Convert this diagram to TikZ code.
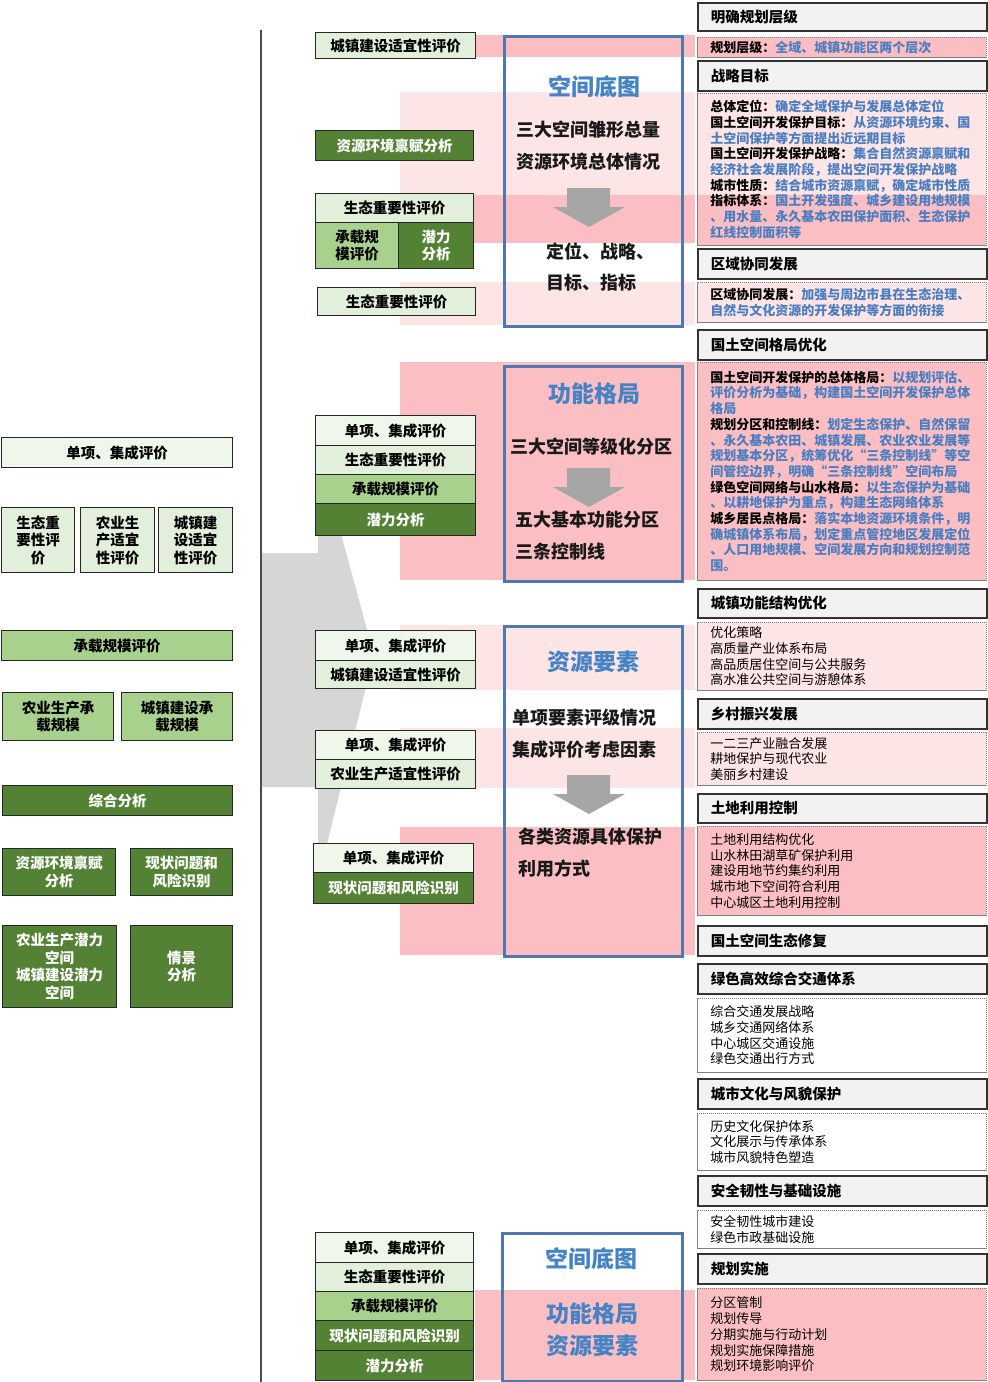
\documentclass[tikz,border=0pt]{standalone}
\usepackage{fontspec}
\setmainfont{Noto Sans CJK SC}
\newcommand\fsz[2]{\fontsize{#1}{#2}\selectfont}
\newcommand\blu[1]{\textcolor{txtblue}{#1}}
\definecolor{gA}{HTML}{EFF6EA}
\definecolor{gB}{HTML}{E2EFDA}
\definecolor{gC}{HTML}{A9D18E}
\definecolor{gD}{HTML}{548235}
\definecolor{pkL}{HTML}{FDE5E6}
\definecolor{pkD}{HTML}{FBBFC3}
\definecolor{frameblue}{HTML}{4E79AE}
\definecolor{titleblue}{HTML}{4383C6}
\definecolor{txtblue}{HTML}{4A7EC1}
\definecolor{ttlgrey}{HTML}{F2F2F2}
\definecolor{arrowgrey}{HTML}{A6A6A6}
\definecolor{biggrey}{HTML}{D6D6D6}
\tikzset{
  gbox/.style={draw=black!85, line width=1.1pt, inner sep=0pt, align=center, font=\fsz{14.5}{17.5}\bfseries},
  bluebox/.style={draw=frameblue, line width=3pt, inner sep=0pt},
  ttlbox/.style={anchor=north west, draw=black!80, line width=1.6pt, fill=ttlgrey, text width=263pt, inner xsep=13pt, inner ysep=0pt, align=left, font=\fsz{14.5}{17}\bfseries},
  cbox/.style={anchor=north west, draw=black!50, dash pattern=on 1.2pt off 0.8pt, line width=0.8pt, text width=263pt, inner xsep=13pt, inner ysep=0pt, align=left, font=\fsz{13}{15.7}},
  bigtitle/.style={font=\fsz{23}{27}\bfseries, text=titleblue, inner sep=0pt},
  btext/.style={font=\fsz{18}{22}\bfseries, text=black!90, inner sep=0pt, anchor=west},
}
\newcommand\bx[7]{\node[#6,anchor=north west,minimum width={(#4)-(#2)},minimum height={(#5)-(#3)}] (#1) at (#2,#3) {#7};}
\newcommand\tb[4]{\node[ttlbox, minimum height={(#3)-(#2)}] (#1) at (697,#2) {#4};}
\newcommand\cb[5]{\node[cbox, minimum height={(#3)-(#2)}, #4] (#1) at (697,#2) {#5};}
\newcommand\darrow[2]{\fill[arrowgrey] (567,#2) -- (610,#2) -- (610,#2+19) -- (625,#2+19) -- (589,#2+39) -- (553,#2+19) -- (567,#2+19) -- cycle;}
\begin{document}
\begin{tikzpicture}[x=1pt,y=-1pt]
\useasboundingbox (0,0) rectangle (988,1382);
% pink bands
\fill[pkD] (475,35) rectangle (695,57);
\fill[pkL] (400,92) rectangle (695,195);
\fill[pkD] (400,195) rectangle (695,243);
\fill[pkL] (400,282) rectangle (695,325);
\fill[pkD] (400,362) rectangle (695,580);
\fill[pkL] (400,625) rectangle (695,690);
\fill[pkL] (400,728) rectangle (695,788);
\fill[pkD] (400,827) rectangle (695,955);
\fill[pkD] (475,1290) rectangle (695,1380);
% big grey arrow
\fill[biggrey] (261,553) -- (318,553) -- (318,450) -- (374,655) -- (318,880) -- (318,787) -- (261,787) -- cycle;
% vertical divider
\coordinate (vtop) at (261,30);
\coordinate (vbot) at (261,1382);
\draw[line width=1.3pt, black!70] (vtop) -- (vbot);
% left column
\bx{l1}{1}{437}{232}{467}{gbox,fill=gA}{单项、集成评价}
\bx{l2}{1}{507}{74}{572}{gbox,fill=gB}{生态重\\要性评\\价}
\bx{l3}{80}{507}{154}{572}{gbox,fill=gB}{农业生\\产适宜\\性评价}
\bx{l4}{158}{507}{232}{572}{gbox,fill=gB}{城镇建\\设适宜\\性评价}
\bx{l5}{1}{630}{232}{660}{gbox,fill=gC}{承载规模评价}
\bx{l6}{2}{692}{113}{740}{gbox,fill=gC}{农业生产承\\载规模}
\bx{l7}{121}{692}{232}{740}{gbox,fill=gC}{城镇建设承\\载规模}
\bx{l8}{2}{785}{232}{815}{gbox,fill=gD,text=white}{综合分析}
\bx{l9}{2}{848}{115}{895}{gbox,fill=gD,text=white}{资源环境禀赋\\分析}
\bx{l10}{130}{848}{232}{895}{gbox,fill=gD,text=white}{现状问题和\\风险识别}
\bx{l11}{2}{925}{116}{1007}{gbox,fill=gD,text=white}{农业生产潜力\\空间\\城镇建设潜力\\空间}
\bx{l12}{130}{925}{232}{1007}{gbox,fill=gD,text=white}{情景\\分析}
% middle column
\bx{m1}{315}{32}{475}{58}{gbox,fill=gB}{城镇建设适宜性评价}
\bx{m2}{315}{130}{473}{160}{gbox,fill=gD,text=white}{资源环境禀赋分析}
\bx{m3}{315}{193}{473}{222}{gbox,fill=gB}{生态重要性评价}
\bx{m4}{315}{222}{398}{268}{gbox,fill=gC}{承载规\\模评价}
\bx{m5}{398}{222}{473}{268}{gbox,fill=gD,text=white}{潜力\\分析}
\bx{m6}{317}{287}{475}{315}{gbox,fill=gB}{生态重要性评价}
\bx{m7}{315}{415}{475}{445}{gbox,fill=gA}{单项、集成评价}
\bx{m8}{315}{445}{475}{474}{gbox,fill=gB}{生态重要性评价}
\bx{m9}{315}{474}{475}{503}{gbox,fill=gC}{承载规模评价}
\bx{m10}{315}{503}{475}{535}{gbox,fill=gD,text=white}{潜力分析}
\bx{m11}{315}{630}{475}{660}{gbox,fill=gA}{单项、集成评价}
\bx{m12}{315}{660}{475}{688}{gbox,fill=gB}{城镇建设适宜性评价}
\bx{m13}{315}{730}{475}{759}{gbox,fill=gA}{单项、集成评价}
\bx{m14}{315}{759}{475}{788}{gbox,fill=gB}{农业生产适宜性评价}
\bx{m15}{313}{843}{473}{872}{gbox,fill=gA}{单项、集成评价}
\bx{m16}{313}{872}{473}{903}{gbox,fill=gD,text=white}{现状问题和风险识别}
\bx{m17}{315}{1232}{473}{1262}{gbox,fill=gA}{单项、集成评价}
\bx{m18}{315}{1262}{473}{1291}{gbox,fill=gB}{生态重要性评价}
\bx{m19}{315}{1291}{473}{1320}{gbox,fill=gC}{承载规模评价}
\bx{m20}{315}{1320}{473}{1350}{gbox,fill=gD,text=white}{现状问题和风险识别}
\bx{m21}{315}{1350}{473}{1380}{gbox,fill=gD,text=white}{潜力分析}
% blue frames
\bx{f1}{503}{35}{681}{325}{bluebox}{}
\bx{f2}{503}{365}{681}{580}{bluebox}{}
\bx{f3}{503}{625}{681}{955}{bluebox}{}
\bx{f4}{501}{1232}{681}{1380}{bluebox}{}
\node[bigtitle] (f1t) at (594,87) {空间底图};
\node[btext] (f1a) at (516,130) {三大空间雏形总量};
\node[btext] (f1b) at (516,162) {资源环境总体情况};
\darrow{a1}{188}
\node[btext] (f1c) at (546,251) {定位、战略、};
\node[btext] (f1d) at (546,283) {目标、指标};
\node[bigtitle] (f2t) at (594,394) {功能格局};
\node[btext] (f2a) at (510,447) {三大空间等级化分区};
\darrow{a2}{468}
\node[btext] (f2b) at (515,520) {五大基本功能分区};
\node[btext] (f2c) at (515,552) {三条控制线};
\node[bigtitle] (f3t) at (593,662) {资源要素};
\node[btext] (f3a) at (512,718) {单项要素评级情况};
\node[btext] (f3b) at (512,750) {集成评价考虑因素};
\darrow{a3}{775}
\node[btext] (f3c) at (518,837) {各类资源具体保护};
\node[btext] (f3d) at (518,869) {利用方式};
\node[bigtitle] (f4t) at (591,1259) {空间底图};
\node[bigtitle] (f4a) at (592,1314) {功能格局};
\node[bigtitle] (f4b) at (592,1346) {资源要素};
% right column
\fill[pkL] (697,93) rectangle (986,195);
\fill[pkD] (697,195) rectangle (986,245);
\tb{r1}{2}{30}{明确规划层级}
\cb{c1}{37}{57}{fill=pkD}{\bfseries 规划层级：\blu{全域、城镇功能区两个层次}}
\tb{r2}{60}{90}{战略目标}
\cb{c2}{93}{245}{}{\bfseries 总体定位：\blu{确定全域保护与发展总体定位}\\
国土空间开发保护目标：\blu{从资源环境约束、国}\\
\blu{土空间保护等方面提出近远期目标}\\
国土空间开发保护战略：\blu{集合自然资源禀赋和}\\
\blu{经济社会发展阶段，提出空间开发保护战略}\\
城市性质：\blu{结合城市资源禀赋，确定城市性质}\\
指标体系：\blu{国土开发强度、城乡建设用地规模}\\
\blu{、用水量、永久基本农田保护面积、生态保护}\\
\blu{红线控制面积等}}
\tb{r3}{248}{278}{区域协同发展}
\cb{c3}{282}{322}{fill=pkL}{\bfseries 区域协同发展：\blu{加强与周边市县在生态治理、}\\
\blu{自然与文化资源的开发保护等方面的衔接}}
\tb{r4}{329}{359}{国土空间格局优化}
\cb{c4}{362}{580}{fill=pkD}{\bfseries 国土空间开发保护的总体格局：\blu{以规划评估、}\\
\blu{评价分析为基础，构建国土空间开发保护总体}\\
\blu{格局}\\
规划分区和控制线：\blu{划定生态保护、自然保留}\\
\blu{、永久基本农田、城镇发展、农业农业发展等}\\
\blu{规划基本分区，统筹优化“三条控制线”等空}\\
\blu{间管控边界，明确“三条控制线”空间布局}\\
绿色空间网络与山水格局：\blu{以生态保护为基础}\\
\blu{、以耕地保护为重点，构建生态网络体系}\\
城乡居民点格局：\blu{落实本地资源环境条件，明}\\
\blu{确城镇体系布局，划定重点管控地区发展定位}\\
\blu{、人口用地规模、空间发展方向和规划控制范}\\
\blu{围。}}
\tb{r5}{588}{617}{城镇功能结构优化}
\cb{c5}{622}{690}{fill=pkL}{优化策略\\高质量产业体系布局\\高品质居住空间与公共服务\\高水准公共空间与游憩体系}
\tb{r6}{698}{728}{乡村振兴发展}
\cb{c6}{732}{785}{fill=pkL}{一二三产业融合发展\\耕地保护与现代农业\\美丽乡村建设}
\tb{r7}{793}{822}{土地利用控制}
\cb{c7}{826}{915}{fill=pkD}{土地利用结构优化\\山水林田湖草矿保护利用\\建设用地节约集约利用\\城市地下空间符合利用\\中心城区土地利用控制}
\tb{r8}{925}{955}{国土空间生态修复}
\tb{r9}{963}{993}{绿色高效综合交通体系}
\cb{c9}{998}{1072}{fill=white}{综合交通发展战略\\城乡交通网络体系\\中心城区交通设施\\绿色交通出行方式}
\tb{r10}{1078}{1108}{城市文化与风貌保护}
\cb{c10}{1113}{1170}{fill=white}{历史文化保护体系\\文化展示与传承体系\\城市风貌特色塑造}
\tb{r11}{1175}{1205}{安全韧性与基础设施}
\cb{c11}{1210}{1248}{fill=white}{安全韧性城市建设\\绿色市政基础设施}
\tb{r12}{1253}{1283}{规划实施}
\cb{c12}{1288}{1380}{fill=pkD}{分区管制\\规划传导\\分期实施与行动计划\\规划实施保障措施\\规划环境影响评价}
\end{tikzpicture}
\end{document}
